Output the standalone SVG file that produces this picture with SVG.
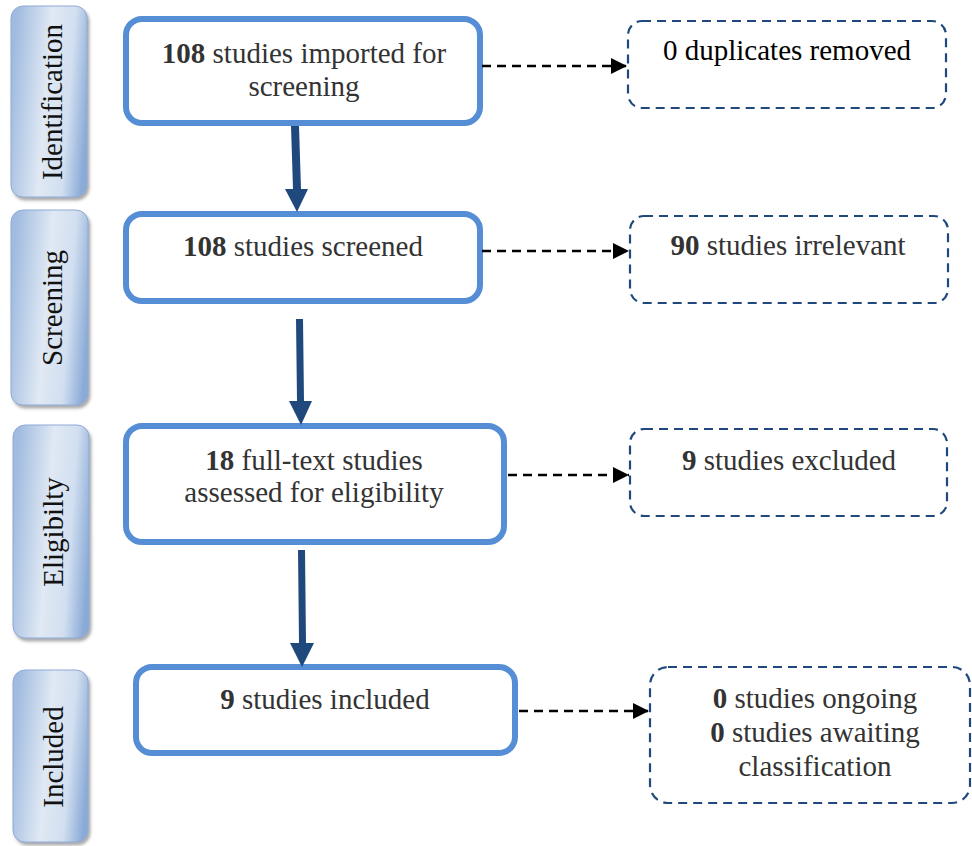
<svg xmlns="http://www.w3.org/2000/svg" width="972" height="846" viewBox="0 0 972 846" font-family="'Liberation Serif', 'DejaVu Serif', serif">
<defs>
<linearGradient id="sideGrad" x1="0" y1="0.4" x2="1" y2="0.6">
<stop offset="0" stop-color="#a0bbdf"/>
<stop offset="0.45" stop-color="#e0e9f4"/>
<stop offset="0.75" stop-color="#d2dff0"/>
<stop offset="1" stop-color="#8aabd7"/>
</linearGradient>
<filter id="shadow" x="-20%" y="-10%" width="140%" height="120%">
<feDropShadow dx="2" dy="3" stdDeviation="1.5" flood-color="#666" flood-opacity="0.55"/>
</filter>
<marker id="dashHead" viewBox="0 0 16 16" refX="16" refY="8" markerWidth="16" markerHeight="16" markerUnits="userSpaceOnUse" orient="auto">
<path d="M0,0 L16,8 L0,16 Z" fill="#000"/>
</marker>
</defs>
<style>
.side rect{fill:url(#sideGrad);stroke:#8eaad6;stroke-width:1;filter:url(#shadow)}
.side text{font-family:'Liberation Serif',serif;font-size:29px;fill:#111;text-anchor:middle}
.main rect{fill:#fff;stroke:#558ed5;stroke-width:6}
.dash rect{fill:#fff;stroke:#1f497d;stroke-width:2.2;stroke-dasharray:9 6}
text.t{font-family:'Liberation Serif',serif;font-size:29px;fill:#333;text-anchor:middle}
.b{font-weight:bold}
.thick{fill:#1f497d}
.dl{stroke:#000;stroke-width:2.6;stroke-dasharray:9 6;fill:none}
</style>

<g id="side-identification" class="side">
<rect x="11" y="6" width="76" height="191" rx="12"/>
<text transform="translate(62,102) rotate(-90)" font-family="Liberation Serif">Identification</text>
</g>
<g id="side-screening" class="side">
<rect x="11" y="210" width="77" height="195" rx="12"/>
<text transform="translate(62,308) rotate(-90)" font-family="Liberation Serif">Screening</text>
</g>
<g id="side-eligibility" class="side">
<rect x="13" y="425" width="76" height="213" rx="12"/>
<text transform="translate(63,532) rotate(-90)" font-family="Liberation Serif">Eligibilty</text>
</g>
<g id="side-included" class="side">
<rect x="13" y="670" width="75" height="172" rx="12"/>
<text transform="translate(63,757) rotate(-90)" font-family="Liberation Serif">Included</text>
</g>

<g id="node-imported" class="main">
<rect x="126" y="19" width="354" height="104" rx="16"/>
<text class="t" x="304" y="63" font-family="Liberation Serif"><tspan class="b">108</tspan> studies imported for</text>
<text class="t" x="304" y="96" font-family="Liberation Serif">screening</text>
</g>
<g id="node-screened" class="main">
<rect x="126" y="214" width="354" height="87" rx="16"/>
<text class="t" x="303" y="256" font-family="Liberation Serif"><tspan class="b">108</tspan> studies screened</text>
</g>
<g id="node-fulltext" class="main">
<rect x="126" y="426" width="378" height="116" rx="16"/>
<text class="t" x="314" y="470" font-family="Liberation Serif"><tspan class="b">18</tspan> full-text studies</text>
<text class="t" x="314" y="502" font-family="Liberation Serif">assessed for eligibility</text>
</g>
<g id="node-included" class="main">
<rect x="136" y="667" width="379" height="86" rx="16"/>
<text class="t" x="325" y="709" font-family="Liberation Serif"><tspan class="b">9</tspan> studies included</text>
</g>

<g id="node-duplicates" class="dash">
<rect x="628" y="21" width="318" height="87" rx="14"/>
<text class="t" x="787" y="60" style="fill:#000" font-family="Liberation Serif">0 duplicates removed</text>
</g>
<g id="node-irrelevant" class="dash">
<rect x="630" y="216" width="318" height="87" rx="14"/>
<text class="t" x="788" y="255" font-family="Liberation Serif"><tspan class="b">90</tspan> studies irrelevant</text>
</g>
<g id="node-excluded" class="dash">
<rect x="630" y="429" width="317" height="87" rx="14"/>
<text class="t" x="789" y="470" font-family="Liberation Serif"><tspan class="b">9</tspan> studies excluded</text>
</g>
<g id="node-ongoing" class="dash">
<rect x="650" y="667" width="320" height="136" rx="18"/>
<text class="t" x="815" y="708" font-family="Liberation Serif"><tspan class="b">0</tspan> studies ongoing</text>
<text class="t" x="815" y="742" font-family="Liberation Serif"><tspan class="b">0</tspan> studies awaiting</text>
<text class="t" x="815" y="776" font-family="Liberation Serif">classification</text>
</g>

<g id="connectors">
<path class="thick" d="M291,126 L299,126 L301,189 L308,189 L297,212 L285,189 L293,189 Z"/>
<path class="thick" d="M296,319 L303,319 L304,401 L312,401 L301,425 L289,401 L297,401 Z"/>
<path class="thick" d="M298,550 L305,550 L306,643 L314,643 L302,667 L290,643 L299,643 Z"/>
<line class="dl" x1="482" y1="66" x2="627" y2="66" marker-end="url(#dashHead)"/>
<line class="dl" x1="482" y1="251" x2="629" y2="251" marker-end="url(#dashHead)"/>
<line class="dl" x1="508" y1="475" x2="629" y2="475" marker-end="url(#dashHead)"/>
<line class="dl" x1="519" y1="711" x2="649" y2="711" marker-end="url(#dashHead)"/>
</g>
</svg>
